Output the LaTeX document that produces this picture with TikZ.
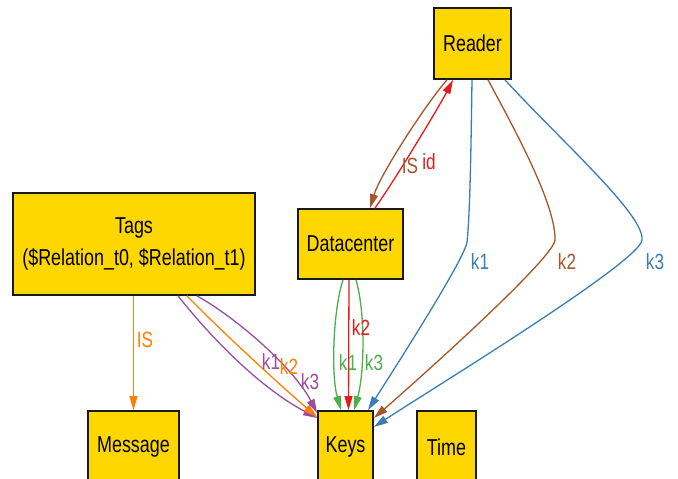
\documentclass[tikz,border=0pt]{standalone}
\usepackage{fontspec}
\setmainfont{Liberation Sans}[FakeStretch=0.78]
\usetikzlibrary{arrows.meta}
\definecolor{gold}{HTML}{FFD700}
\definecolor{cred}{HTML}{E41A1C}
\definecolor{cblu}{HTML}{377EB8}
\definecolor{cgrn}{HTML}{4DAF4A}
\definecolor{cpur}{HTML}{984EA3}
\definecolor{corg}{HTML}{FF7F00}
\definecolor{cbrn}{HTML}{A65628}
\begin{document}
\begin{tikzpicture}[x=1pt,y=-1pt,
  box/.style={draw=black!90, line width=1.8pt, fill=gold, inner sep=0pt,
    font=\fontsize{23}{32}\selectfont, align=center},
  edge/.style={line width=1.3pt, -{Triangle[length=14pt,width=8pt]}},
  lab/.style={font=\fontsize{22}{24}\selectfont, inner sep=0pt}]
\useasboundingbox (0,0) rectangle (678,479);
\clip (0,0) rectangle (678,479);
% nodes
\node[box, minimum width=77, minimum height=71] (reader) at (472.5,43.5) {Reader};
\node[box, minimum width=105, minimum height=70] (datacenter) at (350.5,244) {Datacenter};
\node[box, minimum width=242, minimum height=102] (tags) at (134,244) {Tags\\(\$Relation\_t0, \$Relation\_t1)};
\node[box, minimum width=91, minimum height=72] (message) at (133.5,447) {Message};
\node[box, minimum width=55, minimum height=72] (keys) at (345.5,447) {Keys};
\node[box, minimum width=59, minimum height=72] (time) at (446.5,447) {Time};
% Reader <-> Datacenter
\draw[edge, cbrn] ([xshift=-25.5]reader.south) .. controls (425,105) and (380,175) .. ([xshift=19.5]datacenter.north);
\draw[edge, cred] ([xshift=24.5]datacenter.north) .. controls (395,180) and (440,105) .. ([xshift=-19.5]reader.south);
% Reader -> Keys
\draw[edge, cblu] ([xshift=-0.5]reader.south) .. controls (471,150) and (470,215) .. (467,242) .. controls (465,258) and (400,360) .. ([xshift=22.5]keys.north);
\draw[edge, cbrn] ([xshift=15.5]reader.south) .. controls (515,130) and (556,205) .. (555,240) .. controls (554,258) and (420,378) .. ([yshift=29]keys.east);
\draw[edge, cblu] ([xshift=32.5]reader.south) .. controls (560,140) and (645,215) .. (642,240) .. controls (640,262) and (430,390) .. ([yshift=20]keys.east);
% Datacenter -> Keys
\draw[edge, cgrn] ([xshift=-7.5]datacenter.south) .. controls (333,310) and (331,375) .. ([xshift=-4.5]keys.north);
\draw[edge, cred] ([xshift=-1.5]datacenter.south) -- ([xshift=3]keys.north);
\draw[edge, cgrn] ([xshift=5.5]datacenter.south) .. controls (366,315) and (364,375) .. ([xshift=8.5]keys.north);
% Tags -> Message, Keys
\draw[edge, corg] ([xshift=-0.5]tags.south) -- (message.north);
\draw[edge, cpur] ([xshift=44]tags.south) .. controls (205,330) and (255,385) .. ([yshift=29]keys.west);
\draw[edge, corg] ([xshift=53]tags.south) .. controls (220,330) and (280,385) .. ([yshift=30]keys.west);
\draw[edge, cpur] ([xshift=63]tags.south) .. controls (240,320) and (295,370) .. ([yshift=34]keys.west);
% labels
\node[lab, cbrn] (lis1) at (410,166) {IS};
\node[lab, cred] (lid) at (429,162) {id};
\node[lab, cblu] (lk1a) at (480,262) {k1};
\node[lab, cbrn] (lk2a) at (567,262) {k2};
\node[lab, cblu] (lk3a) at (655,262) {k3};
\node[lab, cgrn] (lk1b) at (348,363) {k1};
\node[lab, cred] (lk2b) at (361,328) {k2};
\node[lab, cgrn] (lk3b) at (374,363) {k3};
\node[lab, corg] (lis2) at (145,340) {IS};
\node[lab, cpur] (lk1c) at (271,362) {k1};
\node[lab, corg] (lk2c) at (289,367) {k2};
\node[lab, cpur] (lk3c) at (310,382) {k3};
\end{tikzpicture}
\end{document}
